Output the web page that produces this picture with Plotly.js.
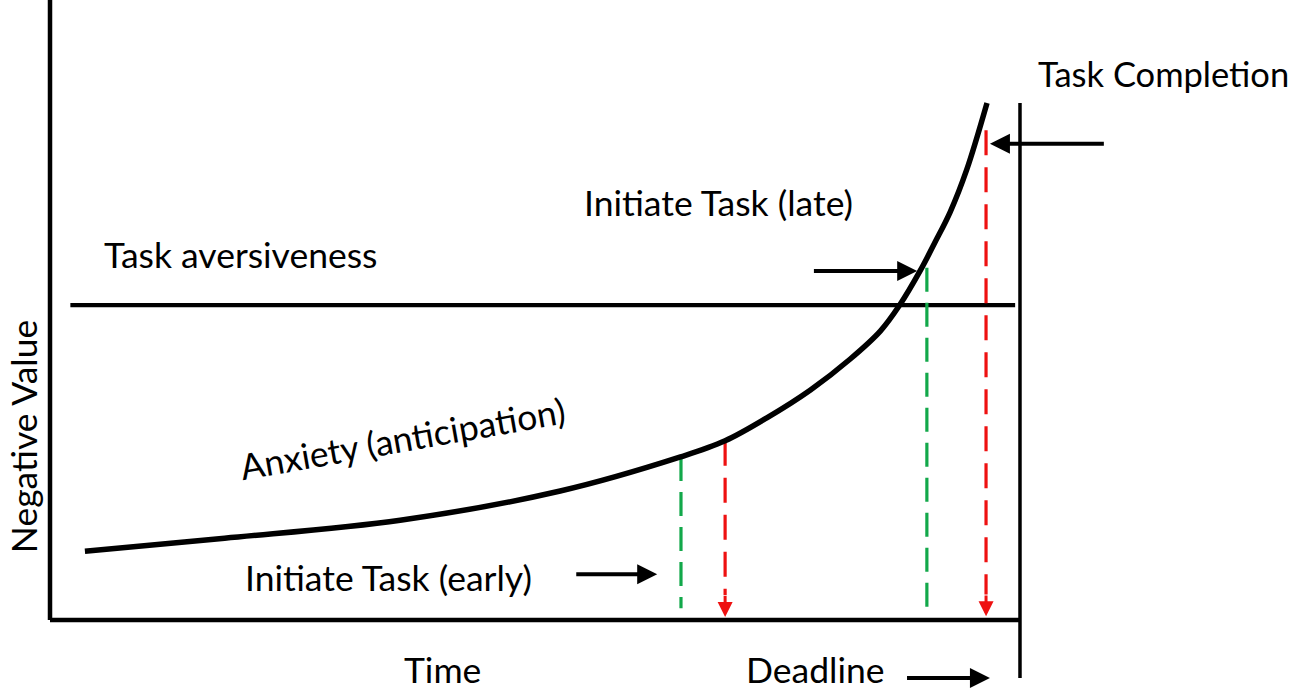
<!DOCTYPE html>
<html>
<head>
<meta charset="utf-8">
<script src="https://cdn.plot.ly/plotly-3.0.1.min.js"></script>
<style>html,body{margin:0;padding:0;background:#fff;}#chart{width:1291px;height:692px;}</style>
</head>
<body>
<div id="chart"></div>
<script>
// ---- data (abstract units: time 0..100 = deadline, negative value 0..100) ----
const anxietyTime  = [3.6, 18.0, 36.1, 52.6, 65.0, 69.6, 73.9, 78.4, 82.5, 85.6, 87.6, 89.7, 91.2, 92.8, 94.5, 96.6];
const anxietyValue = [11.1, 13.2, 16.1, 20.8, 26.3, 28.9, 32.6, 37.1, 42.1, 46.6, 50.8, 56.3, 60.8, 65.8, 72.6, 83.4];

const aversivenessTime  = [2.1, 99.5];
const aversivenessValue = [50.8, 50.8];

const deadlineTime   = 100;
const deadlineRange  = [-9.35, 83.4];

// initiation (green) and completion (red) markers: [early, late]
const initiateTime   = [65.05, 90.4];
const initiateTop    = [26.3, 56.8];
const initiateBottom = [1.9, 2.1];
const completeTime   = [69.6, 96.5];
const completeTop    = [28.9, 79.0];
const completeTip    = [0.5, 0.6];

const labels = {
  completion: "Task Completion",
  late: "Initiate Task (late)",
  aversive: "Task aversiveness",
  anxiety: "Anxiety (anticipation)",
  early: "Initiate Task (early)",
  time: "Time",
  deadline: "Deadline",
  yTitle: "Negative Value"
};

// ---- traces ----
const FONT = "Lato, 'Open Sans', sans-serif";
const FS = 35.5;
const traces = [];
// axes frame
traces.push({x:[0,0], y:[100,0], mode:'lines', line:{color:'#000', width:4.5}, hoverinfo:'skip'});
traces.push({x:[0,deadlineTime], y:[0,0], mode:'lines', line:{color:'#000', width:4.5}, hoverinfo:'skip'});
traces.push({x:[deadlineTime,deadlineTime], y:deadlineRange, mode:'lines', line:{color:'#000', width:3.5}, hoverinfo:'skip'});
// aversiveness
traces.push({x:aversivenessTime, y:aversivenessValue, mode:'lines', line:{color:'#000', width:4.2}, hoverinfo:'skip'});
// dashed lines
for (let i=0;i<initiateTime.length;i++){
  traces.push({x:[initiateTime[i],initiateTime[i]], y:[initiateTop[i],initiateBottom[i]], mode:'lines',
    line:{color:'#12a84a', width:3.2, dash:'24px,11px'}, hoverinfo:'skip'});
  traces.push({x:[completeTime[i],completeTime[i]], y:[completeTop[i],completeTip[i]+3.5], mode:'lines',
    line:{color:'#ee1111', width:3.2, dash:'25px,12px'}, hoverinfo:'skip'});
}
// anxiety curve
traces.push({x:anxietyTime, y:anxietyValue, mode:'lines', line:{color:'#000', width:5.5, shape:'spline', smoothing:1.0}, hoverinfo:'skip'});

// ---- annotations ----
const ann = [];
function arrow(x0,y0,x1,y1,color,w){
  ann.push({x:x1, y:y1, ax:x0, ay:y0, xref:'x', yref:'y', axref:'x', ayref:'y', text:'',
    showarrow:true, arrowhead:2, arrowsize:1, arrowwidth:w, arrowcolor:color, standoff:0, startstandoff:0});
}
arrow(108.8, 76.8, 96.9, 76.8, '#000', 4);
arrow(78.6, 56.3, 89.4, 56.3, '#000', 4);
arrow(54.1, 7.4, 62.6, 7.4, '#000', 4);
arrow(88.2, -9.35, 96.9, -9.35, '#000', 4);
for (let i=0;i<completeTime.length;i++){
  arrow(completeTime[i], completeTip[i]+3.6, completeTime[i], completeTip[i], '#ee1111', 3);
}
function label(text,x,y,xanchor,angle,size,yanchor){
  ann.push({x:x, y:y, xref:'x', yref:'y', text:text, showarrow:false, xanchor:xanchor, yanchor:yanchor||'middle',
    textangle:angle||0, borderpad:0, font:{family:FONT, size:size||FS, color:'#000'}});
}
label(labels.completion, 127.85, 88.2, 'right', 0, 34.5);
label(labels.late, 55.0, 67.4, 'left');
label(labels.aversive, 5.5, 58.9, 'left');
label(labels.anxiety, 36.3, 29.3, 'center', -10);
label(labels.early, 20.0, 6.9, 'left');
label(labels.time, 36.4, -11.58, 'left', 0, FS, 'bottom');
label(labels.deadline, 71.6, -11.58, 'left', 0, FS, 'bottom');
label(labels.yTitle, -5.1, 29.5, 'left', -90);

const layout = {
  width:1291, height:692,
  margin:{l:0, r:0, t:0, b:0},
  paper_bgcolor:'#fff', plot_bgcolor:'#fff',
  showlegend:false,
  xaxis:{range:[-5.155, 127.94], visible:false, fixedrange:true},
  yaxis:{range:[-11.61, 100], visible:false, fixedrange:true},
  annotations:ann
};
Plotly.newPlot('chart', traces, layout, {staticPlot:true, displayModeBar:false});
</script>
</body>
</html>
